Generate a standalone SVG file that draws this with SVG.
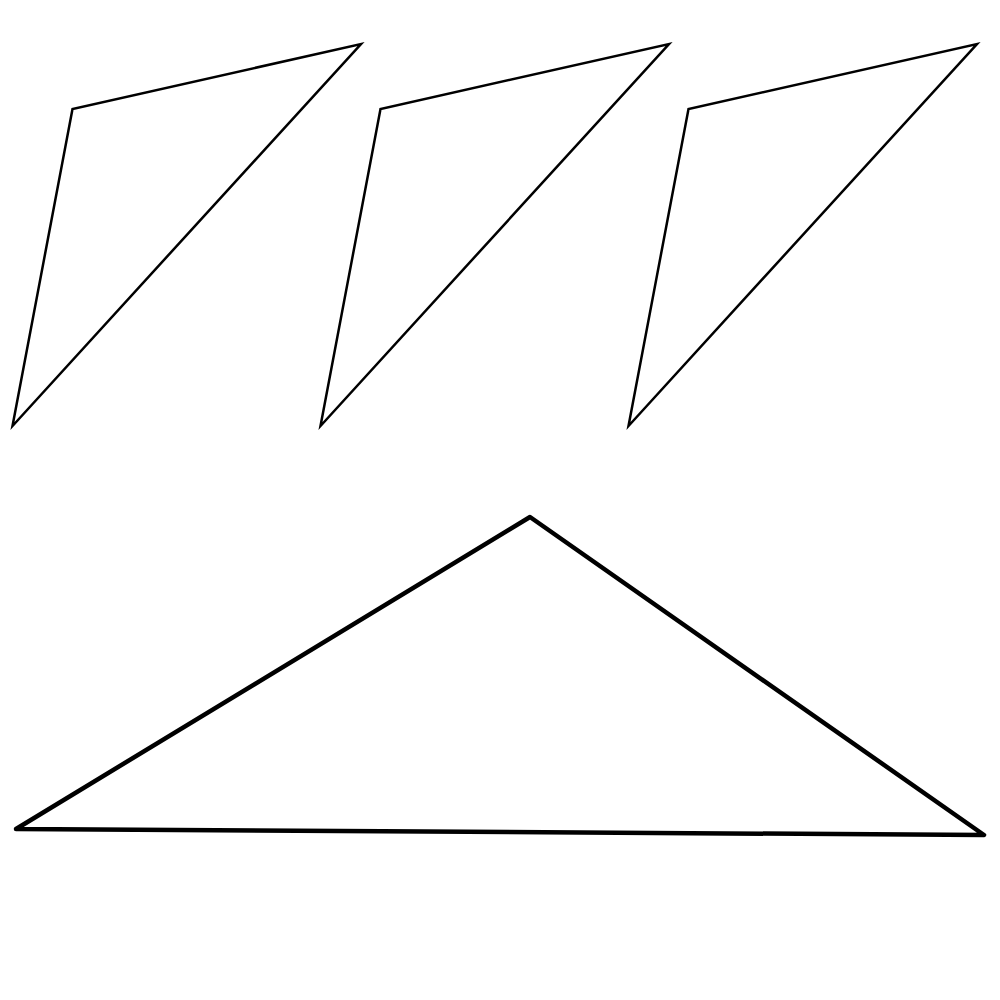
<svg xmlns="http://www.w3.org/2000/svg" width="1000" height="1000" viewBox="0 0 1000 1000">
<style>
.thin{fill:none;stroke:#000;stroke-width:2.5;stroke-linejoin:miter}
.thick{fill:none;stroke:#000;stroke-width:4.5;stroke-linejoin:round}
</style>
<rect width="1000" height="1000" fill="#fff"/>
<defs>
<polygon id="tri" points="12.5,426 72.5,109 361,44"/>
</defs>
<g id="shape1"><use href="#tri" class="thin"/></g>
<g id="shape2"><use href="#tri" class="thin" x="308"/></g>
<g id="shape3"><use href="#tri" class="thin" x="616"/></g>
<g id="shape4"><polygon class="thick" points="16,829 530,517 984,835"/></g>
</svg>
